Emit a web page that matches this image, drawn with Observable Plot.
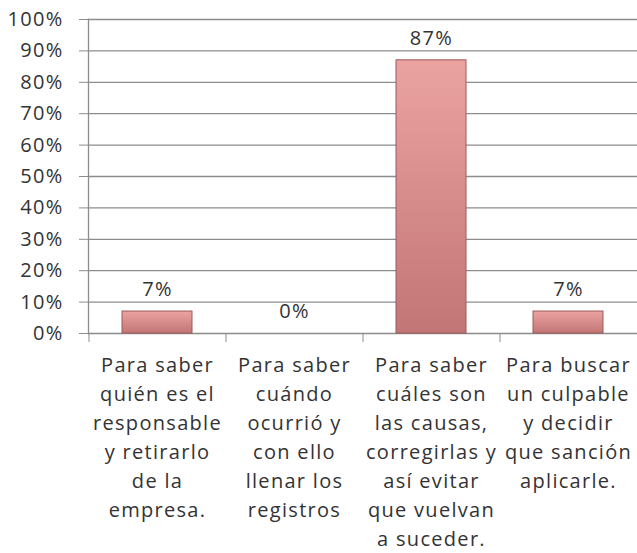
<!DOCTYPE html>
<html>
<head>
<meta charset="utf-8">
<script src="https://cdn.jsdelivr.net/npm/d3@7"></script>
<script src="https://cdn.jsdelivr.net/npm/@observablehq/plot@0.6"></script>
<style>
  html, body { margin: 0; padding: 0; background: #fff; }
  #chart svg { display: block; }
  #chart text { letter-spacing: 1.3px; }
</style>
</head>
<body>
<div id="chart"></div>
<script>
const categories = [
  "Para saber\nquién es el\nresponsable\ny retirarlo\nde la\nempresa.",
  "Para saber\ncuándo\nocurrió y\ncon ello\nllenar los\nregistros",
  "Para saber\ncuáles son\nlas causas,\ncorregirlas y\nasí evitar\nque vuelvan\na suceder.",
  "Para buscar\nun culpable\ny decidir\nque sanción\naplicarle."
];
const values = [7, 0, 87, 7];
const yTicks = [0, 10, 20, 30, 40, 50, 60, 70, 80, 90, 100];

const data = categories.map((c, i) => ({category: c, value: values[i]}));
const grey = "#8c8c8c";
const textColor = "#333333";

const chart = Plot.plot({
  width: 637,
  height: 553,
  marginTop: 19,
  marginBottom: 220,
  marginLeft: 88,
  marginRight: 0,
  style: {fontFamily: "'Open Sans', sans-serif", fontSize: "20px", color: textColor, background: "#fff"},
  x: {domain: categories, paddingInner: 0.49, paddingOuter: 0.245},
  y: {domain: [0, 100]},
  marks: [
    Plot.gridY(yTicks, {stroke: grey, strokeOpacity: 1, strokeWidth: 1.3}),
    Plot.axisY(yTicks, {
      tickSize: 9, tickPadding: 16, stroke: grey, strokeOpacity: 1,
      tickFormat: d => d + "%", fontSize: 20, fill: textColor, label: null
    }),
    Plot.axisX({
      tickSize: 9, dx: -68.5, stroke: grey, strokeOpacity: 1,
      tickFormat: () => "", label: null
    }),
    Plot.axisX({
      tickSize: 0, tickPadding: 18, lineHeight: 1.45,
      fontSize: 20, fill: textColor, label: null, textOverflow: null
    }),
    Plot.frame({anchor: "left", stroke: grey, strokeWidth: 1.3}),
    Plot.barY(data, {
      x: "category", y: "value",
      fill: "url(#barGrad)", stroke: "#9c5a58", strokeWidth: 1
    }),
    Plot.text(data, {
      x: "category", y: "value", text: d => d.value + "%",
      dy: -22, fontSize: 20, fill: textColor
    })
  ]
});

const defs = d3.select(chart).insert("defs", ":first-child");
const grad = defs.append("linearGradient")
  .attr("id", "barGrad").attr("x1", 0).attr("y1", 0).attr("x2", 0).attr("y2", 1);
grad.append("stop").attr("offset", "0%").attr("stop-color", "#eba3a2");
grad.append("stop").attr("offset", "100%").attr("stop-color", "#c27675");

document.getElementById("chart").appendChild(chart);
</script>
</body>
</html>
